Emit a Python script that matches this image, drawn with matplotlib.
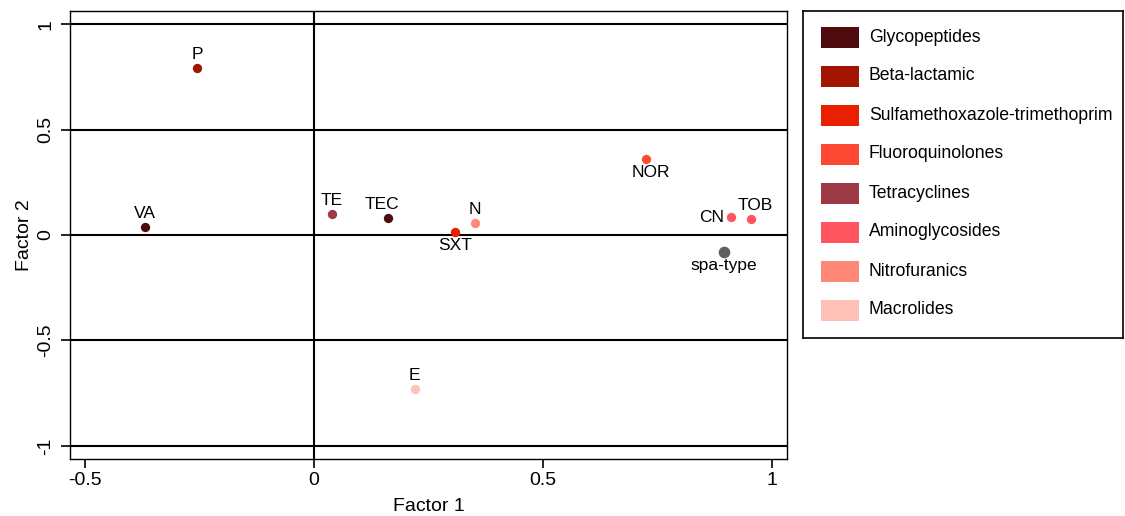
import matplotlib
matplotlib.use("Agg")
import matplotlib.pyplot as plt
from matplotlib.patches import Rectangle

plt.rcParams['font.family'] = ['Liberation Sans', 'DejaVu Sans']

# antibiotic loadings
labels = ['P', 'VA', 'TE', 'TEC', 'SXT', 'N', 'NOR', 'CN', 'TOB', 'E', 'spa-type']
factor1 = [-0.255, -0.369, 0.039, 0.162, 0.308, 0.352, 0.725, 0.91, 0.954, 0.22, 0.895]
factor2 = [0.79, 0.038, 0.10, 0.08, 0.014, 0.057, 0.36, 0.085, 0.076, -0.73, -0.08]
groups = ['Beta-lactamic', 'Glycopeptides', 'Tetracyclines', 'Glycopeptides',
          'Sulfamethoxazole-trimethoprim', 'Nitrofuranics', 'Fluoroquinolones',
          'Aminoglycosides', 'Aminoglycosides', 'Macrolides', 'spa']

categories = ['Glycopeptides', 'Beta-lactamic', 'Sulfamethoxazole-trimethoprim',
              'Fluoroquinolones', 'Tetracyclines', 'Aminoglycosides',
              'Nitrofuranics', 'Macrolides']
cat_colors = ['#4f0c0e', '#a01400', '#e82000', '#ff4a33',
              '#9e3a46', '#ff5560', '#ff8878', '#ffc0b8']
colmap = dict(zip(categories, cat_colors))
colmap['spa'] = '#606060'

# label placement: (dx px, dy px, ha, va)
place = {'P': (0, 6, 'center', 'bottom'), 'VA': (0, 6, 'center', 'bottom'),
         'TE': (0, 6, 'center', 'bottom'), 'TEC': (-6, 6, 'center', 'bottom'),
         'N': (0, 6, 'center', 'bottom'), 'SXT': (0, -6, 'center', 'top'),
         'NOR': (5, -6, 'center', 'top'), 'CN': (-7, 0, 'right', 'center'),
         'TOB': (4, 6, 'center', 'bottom'), 'E': (0, 6, 'center', 'bottom'),
         'spa-type': (0, -6, 'center', 'top')}

W, H = 1125, 516
fig = plt.figure(figsize=(W / 100, H / 100), dpi=100)
ax = fig.add_axes((70 / W, (H - 459) / H, 717 / W, 448 / H))
ax.set_xlim(-0.533, 1.033)
ax.set_ylim(-1.062, 1.062)

for yv in [-1, -0.5, 0, 0.5, 1]:
    ax.axhline(yv, color='black', lw=1.5, zorder=1)
ax.axvline(0, color='black', lw=1.5, zorder=1)

for lab, x, y, g in zip(labels, factor1, factor2, groups):
    s = 70 if g == 'spa' else 45
    ax.scatter(x, y, s=s, color=colmap[g], zorder=3, linewidths=0)
    dx, dy, ha, va = place[lab]
    ax.annotate(lab, (x, y), xytext=(dx * 0.72, dy * 0.72), textcoords='offset points',
                ha=ha, va=va, fontsize=12.5)

ax.set_xticks([-0.5, 0, 0.5, 1])
ax.set_xticklabels(['-0.5', '0', '0.5', '1'])
ax.set_yticks([-1, -0.5, 0, 0.5, 1])
ax.set_yticklabels(['-1', '-0.5', '0', '0.5', '1'], rotation=90, va='center')
ax.tick_params(labelsize=14, length=6.5, width=1.2, direction='out')
ax.tick_params(axis='x', pad=3)
ax.tick_params(axis='y', pad=5)
ax.set_xlabel('Factor 1', fontsize=14, labelpad=6)
ax.set_ylabel('Factor 2', fontsize=14, labelpad=3)
for sp in ax.spines.values():
    sp.set_linewidth(1.0)

# legend box
lx0, ly0, lx1, ly1 = 803, 11, 1123, 338
lax = fig.add_axes((lx0 / W, (H - ly1) / H, (lx1 - lx0) / W, (ly1 - ly0) / H))
lax.set_xlim(0, lx1 - lx0)
lax.set_ylim(ly1 - ly0, 0)
lax.set_xticks([])
lax.set_yticks([])
for sp in lax.spines.values():
    sp.set_linewidth(1.2)
for i, (cat, c) in enumerate(zip(categories, cat_colors)):
    yc = 26 + 39 * i
    lax.add_patch(Rectangle((18, yc - 10.5), 38, 21, facecolor=c, edgecolor='none'))
    lax.text(66, yc, cat, fontsize=12.7, va='center', ha='left')

plt.savefig('out.png', dpi=100)
